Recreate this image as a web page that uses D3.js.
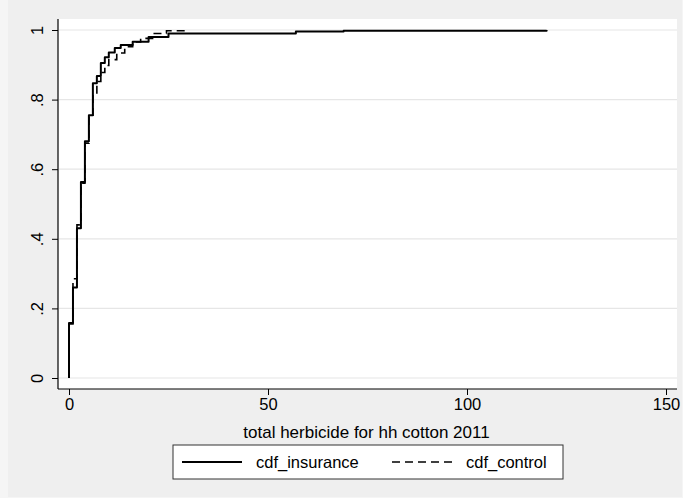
<!DOCTYPE html>
<html>
<head>
<meta charset="utf-8">
<script src="https://cdn.jsdelivr.net/npm/d3@7"></script>
<style>
  html, body { margin: 0; padding: 0; background: #f5f5f5; }
  svg { display: block; font-family: "Liberation Sans", Arial, Helvetica, sans-serif; }
</style>
</head>
<body>
<svg id="chart" width="683" height="498"></svg>
<script>
// Empirical CDF of household herbicide use, by group.
// Each entry: distinct amount and the cumulative share reached at that amount.
const insuranceValues = [0, 1, 2, 3, 4, 5, 6, 7, 8, 9, 10, 11.5, 13, 16, 20, 25, 57, 69, 120];
const insuranceCdf    = [0.158, 0.26, 0.43, 0.563, 0.68, 0.755, 0.847, 0.868, 0.905, 0.922, 0.935, 0.948, 0.957, 0.966, 0.98, 0.99, 0.996, 0.998, 1.0];

const controlValues = [0, 1, 2, 3, 4, 5, 6, 7, 8, 9, 10, 12, 14, 16, 18, 21, 24.5, 30];
const controlCdf    = [0.155, 0.285, 0.44, 0.56, 0.675, 0.75, 0.815, 0.852, 0.878, 0.898, 0.915, 0.934, 0.952, 0.966, 0.976, 0.99, 0.998, 1.0];

const xTicks = [0, 50, 100, 150];
const yTicks = [0, 0.2, 0.4, 0.6, 0.8, 1];
const yTickLabels = ["0", ".2", ".4", ".6", ".8", "1"];

const xTitle = "total herbicide for hh cotton 2011";
const seriesNames = ["cdf_insurance", "cdf_control"];

const svg = d3.select("#chart");

// graph region
svg.append("rect").attr("x", 8).attr("y", 0).attr("width", 674).attr("height", 497).attr("fill", "#efefef");

// plot region
const plot = { left: 58, top: 19, right: 677, bottom: 389 };
svg.append("rect")
  .attr("x", plot.left).attr("y", plot.top)
  .attr("width", plot.right - plot.left).attr("height", plot.bottom - plot.top)
  .attr("fill", "#ffffff");

const x = d3.scaleLinear().domain([0, 150]).range([69, 666]);
const y = d3.scaleLinear().domain([0, 1]).range([378, 30]);

// horizontal grid
svg.append("g").selectAll("line").data(yTicks).join("line")
  .attr("x1", plot.left + 1).attr("x2", plot.right)
  .attr("y1", d => y(d)).attr("y2", d => y(d))
  .attr("stroke", "#e6e6e6").attr("stroke-width", 1.2);

const fontSize = 16.5;

// y axis
const yAxis = svg.append("g")
  .attr("transform", `translate(${plot.left},0)`)
  .call(d3.axisLeft(y).tickValues(yTicks).tickSize(6).tickFormat((d, i) => yTickLabels[i]));
yAxis.select(".domain").remove();
yAxis.selectAll(".tick line").attr("stroke", "#000").attr("stroke-width", 1);
yAxis.selectAll(".tick text")
  .attr("x", 0).attr("dy", null)
  .attr("transform", "translate(-21,0) rotate(-90)")
  .attr("text-anchor", "middle")
  .attr("dominant-baseline", "central")
  .attr("fill", "#000")
  .style("font-size", fontSize + "px")
  .style("font-family", "'Liberation Sans', Arial, sans-serif");
svg.append("line")
  .attr("x1", plot.left).attr("x2", plot.left)
  .attr("y1", plot.top).attr("y2", plot.bottom)
  .attr("stroke", "#000").attr("stroke-width", 1.2);

// x axis
const xAxis = svg.append("g")
  .attr("transform", `translate(0,${plot.bottom})`)
  .call(d3.axisBottom(x).tickValues(xTicks).tickSize(6).tickFormat(d3.format("d")));
xAxis.select(".domain").remove();
xAxis.selectAll(".tick line").attr("stroke", "#000").attr("stroke-width", 1);
xAxis.selectAll(".tick text")
  .attr("y", 9)
  .attr("fill", "#000")
  .style("font-size", fontSize + "px")
  .style("font-family", "'Liberation Sans', Arial, sans-serif");
svg.append("line")
  .attr("x1", plot.left).attr("x2", plot.right)
  .attr("y1", plot.bottom).attr("y2", plot.bottom)
  .attr("stroke", "#000").attr("stroke-width", 1.2);

svg.append("text")
  .attr("x", (x(0) + x(150)) / 2 - 1).attr("y", 432)
  .attr("text-anchor", "middle").attr("dominant-baseline", "central")
  .style("font-size", "17px")
  .text(xTitle);

// step lines: start at zero share at the smallest amount
function stepPoints(values, cdf) {
  return [[values[0], 0]].concat(values.map((v, i) => [v, cdf[i]]));
}
const line = d3.line()
  .x(d => x(d[0])).y(d => y(d[1]))
  .curve(d3.curveStepAfter);

svg.append("path")
  .datum(stepPoints(insuranceValues, insuranceCdf))
  .attr("d", line)
  .attr("fill", "none").attr("stroke", "#000").attr("stroke-width", 2)
  .attr("stroke-linejoin", "round");

svg.append("path")
  .datum(stepPoints(controlValues, controlCdf))
  .attr("d", line)
  .attr("fill", "none").attr("stroke", "#000").attr("stroke-width", 1.6)
  .attr("stroke-dasharray", "8,5");

// legend
const legend = svg.append("g");
legend.append("rect")
  .attr("x", 173).attr("y", 445).attr("width", 390).attr("height", 34)
  .attr("fill", "#fff").attr("stroke", "#333").attr("stroke-width", 1);
const legendY = 462;
legend.append("line")
  .attr("x1", 182).attr("x2", 242).attr("y1", legendY).attr("y2", legendY)
  .attr("stroke", "#000").attr("stroke-width", 2);
legend.append("text")
  .attr("x", 256).attr("y", legendY).attr("dominant-baseline", "central")
  .style("font-size", fontSize + "px").text(seriesNames[0]);
legend.append("line")
  .attr("x1", 392).attr("x2", 456).attr("y1", legendY).attr("y2", legendY)
  .attr("stroke", "#000").attr("stroke-width", 1.6).attr("stroke-dasharray", "8,5");
legend.append("text")
  .attr("x", 466).attr("y", legendY).attr("dominant-baseline", "central")
  .style("font-size", fontSize + "px").text(seriesNames[1]);
</script>
</body>
</html>
